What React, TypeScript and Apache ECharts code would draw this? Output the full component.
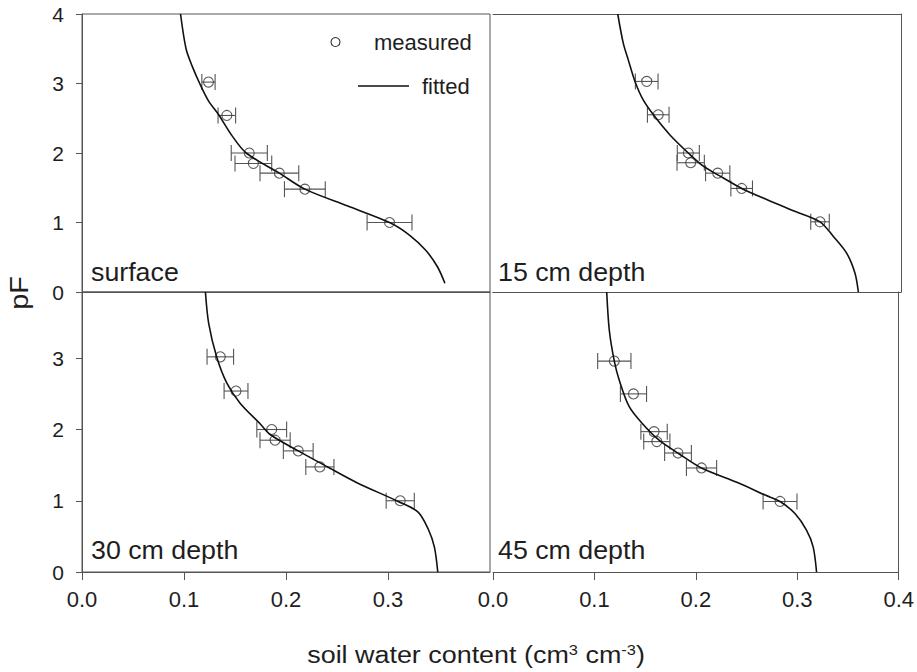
import React, { useEffect, useRef } from "react";
import * as echarts from "echarts";

// ---------- data ----------
const panelLabels = ["surface", "15 cm depth", "30 cm depth", "45 cm depth"];
const xTickLabels = ["0.0", "0.1", "0.2", "0.3", "0.4"];

// measured (soil water content, pF, error half-width)
const surfaceTheta = [0.124, 0.142, 0.164, 0.168, 0.1935, 0.2185, 0.3015];
const surfacePF = [3.02, 2.54, 2.0, 1.85, 1.71, 1.48, 1.0];
const surfaceErr = [0.0065, 0.0086, 0.0177, 0.018, 0.019, 0.02, 0.022];

const d15Theta = [0.1507, 0.162, 0.1915, 0.1938, 0.2203, 0.2438, 0.3206];
const d15PF = [3.03, 2.55, 2.0, 1.86, 1.71, 1.49, 1.01];
const d15Err = [0.0111, 0.0106, 0.0108, 0.0134, 0.0119, 0.0106, 0.0091];

const d30Theta = [0.1356, 0.151, 0.186, 0.1893, 0.212, 0.2332, 0.312];
const d30PF = [3.02, 2.54, 2.0, 1.85, 1.7, 1.475, 1.0];
const d30Err = [0.013, 0.0117, 0.0146, 0.0148, 0.0146, 0.0138, 0.0138];

const d45Theta = [0.1196, 0.1385, 0.1588, 0.1615, 0.1824, 0.2056, 0.283];
const d45PF = [2.96, 2.5, 1.97, 1.83, 1.67, 1.46, 0.99];
const d45Err = [0.0164, 0.0129, 0.013, 0.0129, 0.0132, 0.0149, 0.0167];

// fitted curves
const surfaceFitTheta = [0.0966, 0.102, 0.108, 0.1154, 0.124, 0.134, 0.147, 0.161, 0.1935, 0.2185, 0.26, 0.3015, 0.321, 0.337, 0.3486, 0.3558];
const surfaceFitPF = [4.0, 3.5, 3.25, 3.0, 2.75, 2.55, 2.25, 2.0, 1.71, 1.48, 1.24, 1.0, 0.82, 0.6, 0.36, 0.125];

const d15FitTheta = [0.1223, 0.1277, 0.1326, 0.1392, 0.1474, 0.1588, 0.1735, 0.1915, 0.2062, 0.2258, 0.2438, 0.2683, 0.2944, 0.3206, 0.3337, 0.3467, 0.3549, 0.3582];
const d15FitPF = [4.0, 3.58, 3.34, 3.03, 2.76, 2.52, 2.26, 2.0, 1.81, 1.64, 1.49, 1.33, 1.17, 1.01, 0.8, 0.56, 0.27, 0.0];

const d30FitTheta = [0.121, 0.1242, 0.132, 0.142, 0.155, 0.1746, 0.1844, 0.212, 0.24, 0.27, 0.31, 0.3295, 0.3395, 0.3455, 0.3488];
const d30FitPF = [3.93, 3.49, 3.02, 2.65, 2.37, 2.08, 1.93, 1.7, 1.48, 1.25, 0.99, 0.84, 0.6, 0.35, 0.0];

const d45FitTheta = [0.1121, 0.1147, 0.1196, 0.1245, 0.1343, 0.1474, 0.1637, 0.1833, 0.2055, 0.2422, 0.2683, 0.283, 0.2977, 0.3092, 0.3157, 0.319];
const d45FitPF = [3.93, 3.39, 2.96, 2.69, 2.32, 2.08, 1.85, 1.66, 1.46, 1.25, 1.08, 0.99, 0.82, 0.585, 0.35, 0.0];

const measured = [
  { theta: surfaceTheta, pF: surfacePF, err: surfaceErr },
  { theta: d15Theta, pF: d15PF, err: d15Err },
  { theta: d30Theta, pF: d30PF, err: d30Err },
  { theta: d45Theta, pF: d45PF, err: d45Err },
];
const fitted = [
  { theta: surfaceFitTheta, pF: surfaceFitPF },
  { theta: d15FitTheta, pF: d15FitPF },
  { theta: d30FitTheta, pF: d30FitPF },
  { theta: d45FitTheta, pF: d45FitPF },
];

const FONT = "'Liberation Sans', Arial, sans-serif";
const AXIS_COLOR = "#555";
const TEXT_COLOR = "#1e1e1e";

export default function App() {
  const ref = useRef<HTMLDivElement>(null);

  useEffect(() => {
    if (!ref.current) return;
    const chart = echarts.init(ref.current, undefined, { renderer: "svg" });

    const grids = [
      { left: 82, top: 14, width: 408, height: 278 },
      { left: 493, top: 14, width: 408, height: 278 },
      { left: 82, top: 292, width: 408, height: 280 },
      { left: 493, top: 292, width: 408, height: 280 },
    ];
    const yMaxes = [4, 4, 3.93, 3.93];
    const lineStyle = { color: AXIS_COLOR, width: 1 };

    const xAxes: any[] = grids.map((_, i) => {
      const bottom = i >= 2;
      return {
        type: "value",
        gridIndex: i,
        position: "bottom",
        min: 0,
        max: 0.4,
        interval: 0.1,
        axisLine: { show: true, onZero: false, lineStyle },
        axisTick: { show: bottom, inside: false, length: 8, lineStyle: { color: AXIS_COLOR } },
        axisLabel: {
          show: bottom,
          showMaxLabel: i === 3,
          showMinLabel: true,
          margin: 16,
          fontFamily: FONT,
          fontSize: 22,
          color: TEXT_COLOR,
          formatter: (v: number) => xTickLabels[Math.round(v * 10)] ?? "",
        },
        splitLine: { show: false },
      };
    });
    // top frame lines for the two right-hand panels
    [1, 3].forEach((gi) => {
      xAxes.push({
        type: "value",
        gridIndex: gi,
        position: "top",
        min: 0,
        max: 0.4,
        interval: 0.1,
        axisLine: { show: true, onZero: false, lineStyle },
        axisTick: { show: false },
        axisLabel: { show: false },
        splitLine: { show: false },
      });
    });

    const yAxes = grids.map((_, i) => {
      const left = i % 2 === 0;
      return {
        type: "value",
        gridIndex: i,
        position: left ? "left" : "right",
        min: 0,
        max: yMaxes[i],
        interval: 1,
        axisLine: { show: true, onZero: false, lineStyle },
        axisTick: { show: left, inside: false, length: 6, lineStyle: { color: AXIS_COLOR } },
        axisLabel: {
          show: left,
          showMaxLabel: i === 0,
          margin: 18,
          fontFamily: FONT,
          fontSize: 21,
          color: TEXT_COLOR,
        },
        splitLine: { show: false },
      };
    });

    const series: any[] = [];
    measured.forEach((m, i) => {
      series.push({
        type: "custom",
        name: "error",
        xAxisIndex: i,
        yAxisIndex: i,
        encode: { x: 0, y: 1 },
        data: m.theta.map((t, j) => [t, m.pF[j], m.err[j]]),
        renderItem: (_params: any, api: any) => {
          const x = api.value(0);
          const y = api.value(1);
          const e = api.value(2);
          const lo = api.coord([x - e, y]);
          const hi = api.coord([x + e, y]);
          const cap = 8;
          const st = { stroke: "#555", lineWidth: 1.1 };
          return {
            type: "group",
            children: [
              { type: "line", shape: { x1: lo[0], y1: lo[1], x2: hi[0], y2: hi[1] }, style: st },
              { type: "line", shape: { x1: lo[0], y1: lo[1] - cap, x2: lo[0], y2: lo[1] + cap }, style: st },
              { type: "line", shape: { x1: hi[0], y1: hi[1] - cap, x2: hi[0], y2: hi[1] + cap }, style: st },
            ],
          };
        },
        z: 2,
      });
      series.push({
        type: "scatter",
        name: "measured",
        xAxisIndex: i,
        yAxisIndex: i,
        symbol: "circle",
        symbolSize: 10,
        itemStyle: { color: "rgba(255,255,255,0)", borderColor: "#333", borderWidth: 1.1 },
        data: m.theta.map((t, j) => [t, m.pF[j]]),
        z: 3,
      });
    });
    fitted.forEach((f, i) => {
      series.push({
        type: "line",
        name: "fitted",
        xAxisIndex: i,
        yAxisIndex: i,
        showSymbol: false,
        smooth: 0.3,
        lineStyle: { color: "#111", width: 1.6 },
        data: f.theta.map((t, j) => [t, f.pF[j]]),
        z: 4,
      });
    });

    const labelPos = [
      [91, 272],
      [498, 272],
      [91, 550],
      [498, 550],
    ];

    const graphic: any[] = [
      ...panelLabels.map((txt, i) => ({
        type: "text",
        x: labelPos[i][0],
        y: labelPos[i][1],
        scaleX: 1.03,
        style: {
          text: txt,
          fontFamily: FONT,
          fontSize: 26,
          fill: TEXT_COLOR,
          align: "left",
          verticalAlign: "middle",
        },
        z: 10,
      })),
      // legend
      {
        type: "circle",
        shape: { cx: 335.5, cy: 42, r: 4.5 },
        style: { fill: "none", stroke: "#333", lineWidth: 1.1 },
        z: 10,
      },
      {
        type: "text",
        x: 374,
        y: 42,
        style: { text: "measured", fontFamily: FONT, fontSize: 22, fill: TEXT_COLOR, verticalAlign: "middle" },
        z: 10,
      },
      {
        type: "line",
        shape: { x1: 358, y1: 86, x2: 409, y2: 86 },
        style: { stroke: "#111", lineWidth: 1.6 },
        z: 10,
      },
      {
        type: "text",
        x: 422,
        y: 86,
        style: { text: "fitted", fontFamily: FONT, fontSize: 22, fill: TEXT_COLOR, verticalAlign: "middle" },
        z: 10,
      },
      // axis titles
      {
        type: "text",
        x: 20,
        y: 293,
        rotation: Math.PI / 2,
        scaleX: 1.15,
        style: {
          text: "pF",
          fontFamily: FONT,
          fontSize: 25,
          fill: TEXT_COLOR,
          align: "center",
          verticalAlign: "middle",
        },
        z: 10,
      },
      {
        type: "text",
        x: 476,
        y: 655,
        scaleX: 1.17,
        style: {
          text: "soil water content (cm{sup|3} cm{sup|-3})",
          fontFamily: FONT,
          fontSize: 23,
          fill: TEXT_COLOR,
          align: "center",
          verticalAlign: "middle",
          rich: {
            sup: {
              fontFamily: FONT,
              fontSize: 14,
              fill: TEXT_COLOR,
              verticalAlign: "top",
              padding: [0, 0, 10, 0],
            },
          },
        },
        z: 10,
      },
    ];

    chart.setOption({
      animation: false,
      backgroundColor: "#fff",
      grid: grids.map((g, i) => ({
        ...g,
        show: i % 2 === 0,
        borderColor: AXIS_COLOR,
        borderWidth: 1,
        backgroundColor: "transparent",
      })),
      xAxis: xAxes,
      yAxis: yAxes,
      series,
      graphic,
    });

    return () => chart.dispose();
  }, []);

  return (
    <div
      ref={ref}
      style={{ position: "fixed", left: 0, top: 0, width: 917, height: 672 }}
    />
  );
}
